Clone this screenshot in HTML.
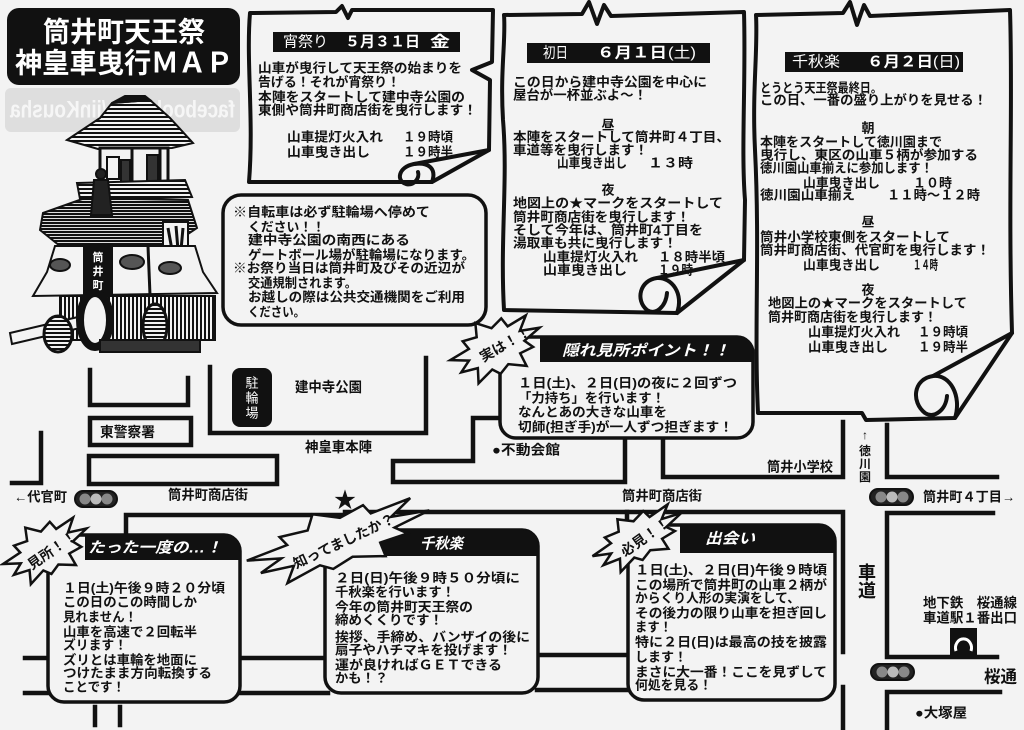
<!DOCTYPE html>
<html><head><meta charset="utf-8">
<style>
html,body{margin:0;padding:0;background:#f3f3f3;overflow:hidden;width:1024px;height:730px}
svg{display:block}
text{font-family:"Liberation Sans","Noto Sans CJK JP",sans-serif;dominant-baseline:central}
.t{font-weight:700;font-size:13px;fill:#111}
.m{font-weight:700;font-size:13.5px;fill:#111}
.w{font-weight:700;font-size:15px;fill:#fff}
.wn{font-weight:400;font-size:15px;fill:#fff}
.wi{font-weight:700;font-size:15px;fill:#fff;font-style:italic}
.ti{font-weight:700;font-size:28px;fill:#fff}
.sb{font-weight:700;font-size:14px;fill:#111}
.road{fill:none;stroke:#111;stroke-width:4.5;stroke-linecap:square;stroke-linejoin:miter}
.scr{fill:#f3f3f3;stroke:#111;stroke-width:4;stroke-linejoin:round}
.ln{fill:none;stroke:#111;stroke-width:4;stroke-linecap:round;stroke-linejoin:round}
.box{fill:#f3f3f3;stroke:#111;stroke-width:3.5}
.star{fill:#f3f3f3;stroke:#111;stroke-width:2.5;stroke-linejoin:miter}
</style></head>
<body>
<svg width="1024" height="730" viewBox="0 0 1024 730" xmlns="http://www.w3.org/2000/svg">
<defs>
<pattern id="hh" width="4" height="4" patternUnits="userSpaceOnUse"><rect width="4" height="4" fill="#f3f3f3"/><rect width="4" height="2" fill="#111"/></pattern>
<pattern id="hh2" width="3" height="3" patternUnits="userSpaceOnUse"><rect width="3" height="3" fill="#ddd"/><rect width="3" height="2" fill="#111"/></pattern>
<pattern id="vh" width="4" height="4" patternUnits="userSpaceOnUse"><rect width="4" height="4" fill="#f3f3f3"/><rect width="2" height="4" fill="#111"/></pattern>
</defs>
<rect width="1024" height="730" fill="#f3f3f3"/>

<!-- watermark band -->
<rect x="5" y="88" width="235" height="44" rx="6" fill="#dedede"/>
<text transform="translate(235,110) scale(-1,1)" x="0" y="0" style="font-weight:700;font-size:24px;fill:#f6f6f6" textLength="225" lengthAdjust="spacingAndGlyphs">facebook.com/jinKousha</text>

<!-- title -->
<rect x="7" y="8" width="233" height="77" rx="12" fill="#111"/>
<text class="ti" x="43" y="32" textLength="162" lengthAdjust="spacingAndGlyphs">筒井町天王祭</text>
<text class="ti" x="15" y="63" textLength="218" lengthAdjust="spacingAndGlyphs">神皇車曳行ＭＡＰ</text>

<!-- float illustration -->
<g stroke="#111" stroke-width="2">
<polygon points="67,140 100,118 112,103 150,100 170,118 193,143 172,148 98,149" fill="url(#hh)"/>
<polygon points="112,103 125,96 145,96 150,100" fill="#111"/>
<rect x="100" y="148" width="68" height="35" fill="#f3f3f3" stroke-width="3"/>
<line x1="132" y1="148" x2="132" y2="183" stroke-width="3"/>
<line x1="160" y1="148" x2="160" y2="183" stroke-width="3"/>
<rect x="107" y="157" width="12" height="22" fill="#f3f3f3"/>
<rect x="121" y="160" width="9" height="22" fill="#333"/>
<rect x="147" y="155" width="11" height="27" fill="#333"/>
<polygon points="77,183 185,180 192,197 80,199" fill="url(#hh)"/>
<polygon points="43,213 85,198 188,200 197,228 170,246 60,246 40,230" fill="url(#hh2)"/>
<path d="M94,180 L108,180 L112,215 L91,215 Z" fill="#222"/>
<circle cx="101" cy="174" r="5" fill="#222"/>
<rect x="163" y="222" width="25" height="32" fill="#f3f3f3"/>
<path d="M168,228 L172,250 M176,226 L178,250 M183,228 L181,250" stroke-width="3"/>
<polygon points="55,246 195,246 203,272 217,293 33,296 47,272" fill="#f3f3f3"/>
<ellipse cx="60" cy="265" rx="10" ry="6" fill="#555"/>
<ellipse cx="132" cy="262" rx="12" ry="7" fill="#555"/>
<ellipse cx="170" cy="268" rx="11" ry="6" fill="#555"/>
<line x1="148" y1="246" x2="150" y2="295" stroke-width="3"/>
<rect x="84" y="247" width="28" height="55" fill="#111"/>
<rect x="60" y="296" width="155" height="44" fill="url(#vh)"/>
<polygon points="10,333 78,317 80,328 12,344" fill="#f3f3f3"/>
<ellipse cx="58" cy="334" rx="14" ry="18" fill="url(#hh)" stroke-width="3"/>
<ellipse cx="155" cy="326" rx="12" ry="22" fill="url(#hh)" stroke-width="3"/>
<ellipse cx="95" cy="320" rx="15" ry="27" fill="#f3f3f3" stroke-width="8"/>
<rect x="100" y="340" width="100" height="12" fill="#333"/>
</g>
<text x="98" y="258" style="font-size:11px;font-weight:700;fill:#fff" text-anchor="middle">筒</text>
<text x="98" y="272" style="font-size:11px;font-weight:700;fill:#fff" text-anchor="middle">井</text>
<text x="98" y="286" style="font-size:11px;font-weight:700;fill:#fff" text-anchor="middle">町</text>

<!-- roads -->
<path class="road" d="M90,370 L90,405 L188,405 L188,378"/>
<rect class="road" x="90" y="418" width="101" height="27"/>
<rect class="road" x="89" y="456" width="188" height="28"/>
<path class="road" d="M210,367 L210,433 L426,433 L426,358"/>
<path class="road" d="M41,433 L41,483 L12,483"/>
<path class="road" d="M473,418 L500,418 M473,418 L473,461 L393,461 L393,482 L625,482 L625,437"/>
<path class="road" d="M663,437 L663,477 L843,477 L843,422"/>
<path class="road" d="M887,425 L887,477 L997,477"/>
<path class="road" d="M126,540 L126,515 L345,515 L345,512 L843,512 L843,652"/>
<path class="road" d="M627,512 L627,532"/>
<path class="road" d="M843,687 L843,730"/>
<path class="road" d="M993,513 L887,513 L887,657 L997,657"/>
<path class="road" d="M887,730 L887,692 L1000,692"/>
<path class="road" d="M25,658 L50,658 M25,693 L50,693 M240,658 L328,658 M240,693 L328,693"/>
<path class="road" d="M537,655 L628,655 M537,690 L628,690"/>
<path class="road" d="M95,707 L95,725 M120,707 L120,725"/>

<!-- parking -->
<rect x="232" y="368" width="40" height="59" rx="8" fill="#111"/>
<text x="252" y="383" text-anchor="middle" style="font-size:13px;fill:#fff">駐</text>
<text x="252" y="398" text-anchor="middle" style="font-size:13px;fill:#fff">輪</text>
<text x="252" y="413" text-anchor="middle" style="font-size:13px;fill:#fff">場</text>

<!-- map labels -->
<text class="sb" x="295" y="387" textLength="67" lengthAdjust="spacingAndGlyphs">建中寺公園</text>
<text class="sb" x="305" y="447" textLength="67" lengthAdjust="spacingAndGlyphs">神皇車本陣</text>
<text class="sb" x="100" y="432" textLength="55" lengthAdjust="spacingAndGlyphs">東警察署</text>
<text class="m" x="14" y="497" textLength="53" lengthAdjust="spacingAndGlyphs">←代官町</text>
<text class="m" x="168" y="495" textLength="80" lengthAdjust="spacingAndGlyphs">筒井町商店街</text>
<text class="m" x="492" y="450" textLength="68" lengthAdjust="spacingAndGlyphs">●不動会館</text>
<text class="m" x="622" y="496" textLength="80" lengthAdjust="spacingAndGlyphs">筒井町商店街</text>
<text class="m" x="767" y="467" textLength="66" lengthAdjust="spacingAndGlyphs">筒井小学校</text>
<text class="m" x="923" y="497" textLength="92" lengthAdjust="spacingAndGlyphs">筒井町４丁目→</text>
<text class="m" x="923" y="603" textLength="94" lengthAdjust="spacingAndGlyphs">地下鉄　桜通線</text>
<text class="m" x="923" y="618" textLength="94" lengthAdjust="spacingAndGlyphs">車道駅１番出口</text>
<text x="984" y="677" style="font-weight:700;font-size:17px;fill:#111" textLength="33" lengthAdjust="spacingAndGlyphs">桜通</text>
<text class="m" x="915" y="713" textLength="52" lengthAdjust="spacingAndGlyphs">●大塚屋</text>
<text x="867" y="573" text-anchor="middle" style="font-weight:700;font-size:18px;fill:#111">車</text>
<text x="867" y="591" text-anchor="middle" style="font-weight:700;font-size:18px;fill:#111">道</text>
<text x="865" y="435" text-anchor="middle" style="font-size:12px;fill:#111">↑</text>
<text x="865" y="451" text-anchor="middle" style="font-weight:700;font-size:12px;fill:#111">徳</text>
<text x="865" y="464" text-anchor="middle" style="font-weight:700;font-size:12px;fill:#111">川</text>
<text x="865" y="477" text-anchor="middle" style="font-weight:700;font-size:12px;fill:#111">園</text>
<text x="345" y="500" text-anchor="middle" style="font-size:22px;fill:#111">★</text>

<!-- traffic lights -->
<rect x="75" y="491" width="42" height="16" rx="8" fill="#222" stroke="#111" stroke-width="2"/>
<circle cx="85" cy="499" r="5.5" fill="#888"/><circle cx="96" cy="499" r="5.5" fill="#bbb"/><circle cx="107" cy="499" r="5.5" fill="#888"/>
<rect x="870" y="489" width="43" height="16" rx="8" fill="#222" stroke="#111" stroke-width="2"/>
<circle cx="881" cy="497" r="5.5" fill="#888"/><circle cx="892" cy="497" r="5.5" fill="#bbb"/><circle cx="903" cy="497" r="5.5" fill="#888"/>
<rect x="871" y="664" width="43" height="16" rx="8" fill="#222" stroke="#111" stroke-width="2"/>
<circle cx="882" cy="672" r="5.5" fill="#888"/><circle cx="893" cy="672" r="5.5" fill="#bbb"/><circle cx="904" cy="672" r="5.5" fill="#888"/>

<!-- subway icon -->
<rect x="950" y="628" width="27" height="27" fill="#111"/>
<path d="M956,651 A8,9 0 1 1 971,651" fill="none" stroke="#fff" stroke-width="3"/>

<!-- scroll 1 -->
<path class="scr" d="M432,182 L249,182 C254,120 246,60 250,13 L336,12 L342,6 L348,18 L352,10 L493,10 L492,62 L472,70 L490,80 L489,150 L432,182 Z"/>
<path class="ln" d="M432,182 C437,168 428,162 414,164 C398,167 396,181 406,184 C414,186 420,178 418,172"/>
<path class="ln" d="M414,164 L489,150"/>
<rect x="273" y="32" width="187" height="20" fill="#111"/>
<text class="wn" x="283" y="42" textLength="45" lengthAdjust="spacingAndGlyphs">宵祭り</text>
<text class="w" x="345" y="42" textLength="75" lengthAdjust="spacingAndGlyphs">５月３１日</text>
<text class="w" x="430" y="42" textLength="20" lengthAdjust="spacingAndGlyphs">金</text>
<text class="t" x="258" y="68" textLength="204" lengthAdjust="spacingAndGlyphs">山車が曳行して天王祭の始まりを</text>
<text class="t" x="258" y="82" textLength="142" lengthAdjust="spacingAndGlyphs">告げる！それが宵祭り！</text>
<text class="t" x="258" y="97" textLength="207" lengthAdjust="spacingAndGlyphs">本陣をスタートして建中寺公園の</text>
<text class="t" x="258" y="110" textLength="219" lengthAdjust="spacingAndGlyphs">東側や筒井町商店街を曳行します！</text>
<text class="t" x="287" y="137" textLength="96" lengthAdjust="spacingAndGlyphs">山車提灯火入れ</text>
<text class="t" x="403" y="137" textLength="50" lengthAdjust="spacingAndGlyphs">１９時頃</text>
<text class="t" x="287" y="152" textLength="83" lengthAdjust="spacingAndGlyphs">山車曳き出し</text>
<text class="t" x="403" y="152" textLength="50" lengthAdjust="spacingAndGlyphs">１９時半</text>

<!-- notice box -->
<rect class="box" x="223" y="195" width="263" height="130" rx="18"/>
<text class="t" x="233" y="212" textLength="197" lengthAdjust="spacingAndGlyphs">※自転車は必ず駐輪場へ停めて</text>
<text class="t" x="248" y="227" textLength="77" lengthAdjust="spacingAndGlyphs">ください！！</text>
<text class="t" x="248" y="240" textLength="162" lengthAdjust="spacingAndGlyphs">建中寺公園の南西にある</text>
<text class="t" x="248" y="255" textLength="227" lengthAdjust="spacingAndGlyphs">ゲートボール場が駐輪場になります。</text>
<text class="t" x="233" y="268" textLength="232" lengthAdjust="spacingAndGlyphs">※お祭り当日は筒井町及びその近辺が</text>
<text class="t" x="248" y="283" textLength="109" lengthAdjust="spacingAndGlyphs">交通規制されます。</text>
<text class="t" x="248" y="297" textLength="217" lengthAdjust="spacingAndGlyphs">お越しの際は公共交通機関をご利用</text>
<text class="t" x="248" y="312" textLength="57" lengthAdjust="spacingAndGlyphs">ください。</text>

<!-- scroll 2 -->
<path class="scr" d="M677,313 L504,310 C500,240 508,180 503,120 C500,70 506,40 504,15 L582,14 L589,2 L597,24 L604,5 L611,16 L744,12 C746,80 741,150 745,200 L744,260 L677,313 Z"/>
<path class="ln" d="M677,313 C684,294 672,277 657,278 C640,280 635,300 647,310 C656,316 666,306 667,293"/>
<path class="ln" d="M657,278 L744,260"/>
<rect x="527" y="43" width="183" height="20" fill="#111"/>
<text class="wn" x="543" y="53" textLength="25" lengthAdjust="spacingAndGlyphs">初日</text>
<text class="w" x="597" y="53" textLength="70" lengthAdjust="spacingAndGlyphs">６月１日</text>
<text class="wn" x="668" y="53" textLength="28" lengthAdjust="spacingAndGlyphs">(土)</text>
<text class="t" x="513" y="82" textLength="194" lengthAdjust="spacingAndGlyphs">この日から建中寺公園を中心に</text>
<text class="t" x="513" y="95" textLength="134" lengthAdjust="spacingAndGlyphs">屋台が一杯並ぶよ～！</text>
<text class="t" x="608" y="125" text-anchor="middle">昼</text>
<text class="t" x="513" y="137" textLength="217" lengthAdjust="spacingAndGlyphs">本陣をスタートして筒井町４丁目、</text>
<text class="t" x="513" y="150" textLength="135" lengthAdjust="spacingAndGlyphs">車道等を曳行します！</text>
<text class="t" x="557" y="163" textLength="70" lengthAdjust="spacingAndGlyphs">山車曳き出し</text>
<text class="t" x="648" y="163" textLength="45" lengthAdjust="spacingAndGlyphs">１３時</text>
<text class="t" x="608" y="190" text-anchor="middle">夜</text>
<text class="t" x="513" y="203" textLength="210" lengthAdjust="spacingAndGlyphs">地図上の★マークをスタートして</text>
<text class="t" x="513" y="217" textLength="177" lengthAdjust="spacingAndGlyphs">筒井町商店街を曳行します！</text>
<text class="t" x="513" y="230" textLength="190" lengthAdjust="spacingAndGlyphs">そして今年は、筒井町4丁目を</text>
<text class="t" x="513" y="243" textLength="164" lengthAdjust="spacingAndGlyphs">湯取車も共に曳行します！</text>
<text class="t" x="543" y="257" textLength="95" lengthAdjust="spacingAndGlyphs">山車提灯火入れ</text>
<text class="t" x="658" y="257" textLength="67" lengthAdjust="spacingAndGlyphs">１８時半頃</text>
<text class="t" x="543" y="270" textLength="84" lengthAdjust="spacingAndGlyphs">山車曳き出し</text>
<text class="t" x="658" y="270" textLength="35" lengthAdjust="spacingAndGlyphs">１９時</text>

<!-- scroll 3 -->
<path class="scr" d="M955,418 L866,420 L862,413 L758,413 C754,330 760,250 755,150 C752,90 758,50 756,15 L843,13 L850,2 L857,25 L864,5 L870,16 L1010,10 C1013,100 1008,200 1012,333 L955,418 Z"/>
<path class="ln" d="M955,418 C962,396 950,374 933,376 C913,379 911,402 925,413 C934,419 946,410 947,396"/>
<path class="ln" d="M933,376 L1012,333"/>
<rect x="785" y="52" width="178" height="20" fill="#111"/>
<text class="wn" x="792" y="62" textLength="48" lengthAdjust="spacingAndGlyphs">千秋楽</text>
<text class="w" x="867" y="62" textLength="66" lengthAdjust="spacingAndGlyphs">６月２日</text>
<text class="wn" x="933" y="62" textLength="27" lengthAdjust="spacingAndGlyphs">(日)</text>
<text class="t" x="760" y="88" textLength="122" lengthAdjust="spacingAndGlyphs">とうとう天王祭最終日。</text>
<text class="t" x="760" y="100" textLength="227" lengthAdjust="spacingAndGlyphs">この日、一番の盛り上がりを見せる！</text>
<text class="t" x="868" y="128" text-anchor="middle">朝</text>
<text class="t" x="760" y="142" textLength="182" lengthAdjust="spacingAndGlyphs">本陣をスタートして徳川園まで</text>
<text class="t" x="760" y="155" textLength="218" lengthAdjust="spacingAndGlyphs">曳行し、東区の山車５柄が参加する</text>
<text class="t" x="760" y="168" textLength="173" lengthAdjust="spacingAndGlyphs">徳川園山車揃えに参加します！</text>
<text class="t" x="803" y="183" textLength="77" lengthAdjust="spacingAndGlyphs">山車曳き出し</text>
<text class="t" x="913" y="183" textLength="39" lengthAdjust="spacingAndGlyphs">１０時</text>
<text class="t" x="760" y="195" textLength="95" lengthAdjust="spacingAndGlyphs">徳川園山車揃え</text>
<text class="t" x="887" y="195" textLength="93" lengthAdjust="spacingAndGlyphs">１１時～１２時</text>
<text class="t" x="868" y="222" text-anchor="middle">昼</text>
<text class="t" x="760" y="237" textLength="190" lengthAdjust="spacingAndGlyphs">筒井小学校東側をスタートして</text>
<text class="t" x="760" y="250" textLength="230" lengthAdjust="spacingAndGlyphs">筒井町商店街、代官町を曳行します！</text>
<text class="t" x="803" y="265" textLength="77" lengthAdjust="spacingAndGlyphs">山車曳き出し</text>
<text class="t" x="913" y="265" textLength="25" lengthAdjust="spacingAndGlyphs">１４時</text>
<text class="t" x="868" y="290" text-anchor="middle">夜</text>
<text class="t" x="768" y="303" textLength="199" lengthAdjust="spacingAndGlyphs">地図上の★マークをスタートして</text>
<text class="t" x="768" y="317" textLength="169" lengthAdjust="spacingAndGlyphs">筒井町商店街を曳行します！</text>
<text class="t" x="808" y="332" textLength="92" lengthAdjust="spacingAndGlyphs">山車提灯火入れ</text>
<text class="t" x="918" y="332" textLength="50" lengthAdjust="spacingAndGlyphs">１９時頃</text>
<text class="t" x="808" y="347" textLength="80" lengthAdjust="spacingAndGlyphs">山車曳き出し</text>
<text class="t" x="918" y="347" textLength="50" lengthAdjust="spacingAndGlyphs">１９時半</text>

<!-- hidden point box -->
<rect class="box" x="500" y="337" width="253" height="101" rx="16"/>
<path d="M540,337 L737,337 Q753,337 753,353 L753,362 L540,362 Z" fill="#111"/>
<text class="wi" x="562" y="351" textLength="168" lengthAdjust="spacingAndGlyphs">隠れ見所ポイント！！</text>
<text class="t" x="518" y="383" textLength="219" lengthAdjust="spacingAndGlyphs">１日(土)、２日(日)の夜に２回ずつ</text>
<text class="t" x="518" y="398" textLength="147" lengthAdjust="spacingAndGlyphs">「力持ち」を行います！</text>
<text class="t" x="518" y="412" textLength="149" lengthAdjust="spacingAndGlyphs">なんとあの大きな山車を</text>
<text class="t" x="518" y="427" textLength="215" lengthAdjust="spacingAndGlyphs">切師(担ぎ手)が一人ずつ担ぎます！</text>
<polygon class="star" vector-effect="non-scaling-stroke" transform="translate(496,348) rotate(-25) scale(48,32)" points="1,0 .6,.17 .71,.46 .41,.47 .42,.91 .09,.62 -.14,.79 -.26,.56 -.64,.77 -.52,.33 -.87,.23 -.62,0 -.97,-.26 -.52,-.33 -.57,-.63 -.27,-.56 -.17,-.98 .09,-.62 .36,-.77 .41,-.46 .85,-.53 .6,-.17"/>
<text transform="translate(505,344) rotate(-30)" x="0" y="0" text-anchor="middle" style="font-weight:700;font-size:14px;fill:#111">実は！！</text>

<!-- 見所 box -->
<rect class="box" x="48" y="535" width="192" height="167" rx="16"/>
<path d="M85,535 L224,535 Q240,535 240,551 L240,560 L85,560 Z" fill="#111"/>
<text class="wi" x="88" y="548" textLength="134" lengthAdjust="spacingAndGlyphs">たった一度の…！</text>
<text class="t" x="63" y="588" textLength="162" lengthAdjust="spacingAndGlyphs">１日(土)午後９時２０分頃</text>
<text class="t" x="63" y="602" textLength="134" lengthAdjust="spacingAndGlyphs">この日のこの時間しか</text>
<text class="t" x="63" y="617" textLength="74" lengthAdjust="spacingAndGlyphs">見れません！</text>
<text class="t" x="63" y="632" textLength="134" lengthAdjust="spacingAndGlyphs">山車を高速で２回転半</text>
<text class="t" x="63" y="645" textLength="64" lengthAdjust="spacingAndGlyphs">ズリます！</text>
<text class="t" x="63" y="660" textLength="134" lengthAdjust="spacingAndGlyphs">ズリとは車輪を地面に</text>
<text class="t" x="63" y="673" textLength="149" lengthAdjust="spacingAndGlyphs">つけたまま方向転換する</text>
<text class="t" x="63" y="687" textLength="62" lengthAdjust="spacingAndGlyphs">ことです！</text>
<polygon class="star" vector-effect="non-scaling-stroke" transform="translate(46,550) rotate(-28) scale(46,30)" points="1,0 .6,.17 .71,.46 .41,.47 .42,.91 .09,.62 -.14,.79 -.26,.56 -.64,.77 -.52,.33 -.87,.23 -.62,0 -.97,-.26 -.52,-.33 -.57,-.63 -.27,-.56 -.17,-.98 .09,-.62 .36,-.77 .41,-.46 .85,-.53 .6,-.17"/>
<text transform="translate(52,550) rotate(-35)" x="0" y="0" text-anchor="middle" style="font-weight:700;font-size:14px;fill:#111">見所！！</text>

<!-- 千秋楽 box -->
<rect class="box" x="325" y="530" width="213" height="163" rx="16"/>
<path d="M380,530 L522,530 Q538,530 538,546 L538,556 L380,556 Z" fill="#111"/>
<text class="wi" x="420" y="544" textLength="43" lengthAdjust="spacingAndGlyphs">千秋楽</text>
<text class="t" x="335" y="578" textLength="185" lengthAdjust="spacingAndGlyphs">２日(日)午後９時５０分頃に</text>
<text class="t" x="335" y="592" textLength="120" lengthAdjust="spacingAndGlyphs">千秋楽を行います！</text>
<text class="t" x="335" y="607" textLength="138" lengthAdjust="spacingAndGlyphs">今年の筒井町天王祭の</text>
<text class="t" x="335" y="620" textLength="108" lengthAdjust="spacingAndGlyphs">締めくくりです！</text>
<text class="t" x="335" y="637" textLength="195" lengthAdjust="spacingAndGlyphs">挨拶、手締め、バンザイの後に</text>
<text class="t" x="335" y="650" textLength="177" lengthAdjust="spacingAndGlyphs">扇子やハチマキを投げます！</text>
<text class="t" x="335" y="665" textLength="167" lengthAdjust="spacingAndGlyphs">運が良ければＧＥＴできる</text>
<text class="t" x="335" y="678" textLength="53" lengthAdjust="spacingAndGlyphs">かも！？</text>
<polygon class="star" vector-effect="non-scaling-stroke" transform="translate(338,540) rotate(-18) scale(96,33)" points="1,0 .6,.17 .71,.46 .41,.47 .42,.91 .09,.62 -.14,.79 -.26,.56 -.64,.77 -.52,.33 -.87,.23 -.62,0 -.97,-.26 -.52,-.33 -.57,-.63 -.27,-.56 -.17,-.98 .09,-.62 .36,-.77 .41,-.46 .85,-.53 .6,-.17"/>
<text transform="translate(344,541) rotate(-25)" x="-55" y="0" textLength="110" lengthAdjust="spacingAndGlyphs" style="font-weight:700;font-size:14px;fill:#111">知ってましたか？</text>

<!-- 出会い box -->
<rect class="box" x="628" y="525" width="207" height="175" rx="16"/>
<path d="M680,525 L819,525 Q835,525 835,541 L835,553 L680,553 Z" fill="#111"/>
<text class="wi" x="705" y="539" textLength="50" lengthAdjust="spacingAndGlyphs">出会い</text>
<text class="t" x="635" y="570" textLength="192" lengthAdjust="spacingAndGlyphs">１日(土)、２日(日)午後９時頃</text>
<text class="t" x="635" y="585" textLength="192" lengthAdjust="spacingAndGlyphs">この場所で筒井町の山車２柄が</text>
<text class="t" x="635" y="598" textLength="165" lengthAdjust="spacingAndGlyphs">からくり人形の実演をして、</text>
<text class="t" x="635" y="613" textLength="192" lengthAdjust="spacingAndGlyphs">その後力の限り山車を担ぎ回し</text>
<text class="t" x="635" y="627" textLength="37" lengthAdjust="spacingAndGlyphs">ます！</text>
<text class="t" x="635" y="642" textLength="192" lengthAdjust="spacingAndGlyphs">特に２日(日)は最高の技を披露</text>
<text class="t" x="635" y="657" textLength="52" lengthAdjust="spacingAndGlyphs">します！</text>
<text class="t" x="635" y="672" textLength="192" lengthAdjust="spacingAndGlyphs">まさに大一番！ここを見ずして</text>
<text class="t" x="635" y="685" textLength="77" lengthAdjust="spacingAndGlyphs">何処を見る！</text>
<polygon class="star" vector-effect="non-scaling-stroke" transform="translate(638,538) rotate(-30) scale(50,27)" points="1,0 .6,.17 .71,.46 .41,.47 .42,.91 .09,.62 -.14,.79 -.26,.56 -.64,.77 -.52,.33 -.87,.23 -.62,0 -.97,-.26 -.52,-.33 -.57,-.63 -.27,-.56 -.17,-.98 .09,-.62 .36,-.77 .41,-.46 .85,-.53 .6,-.17"/>
<text transform="translate(645,537) rotate(-35)" x="0" y="0" text-anchor="middle" style="font-weight:700;font-size:14px;fill:#111">必見！！</text>
</svg>
</body></html>
